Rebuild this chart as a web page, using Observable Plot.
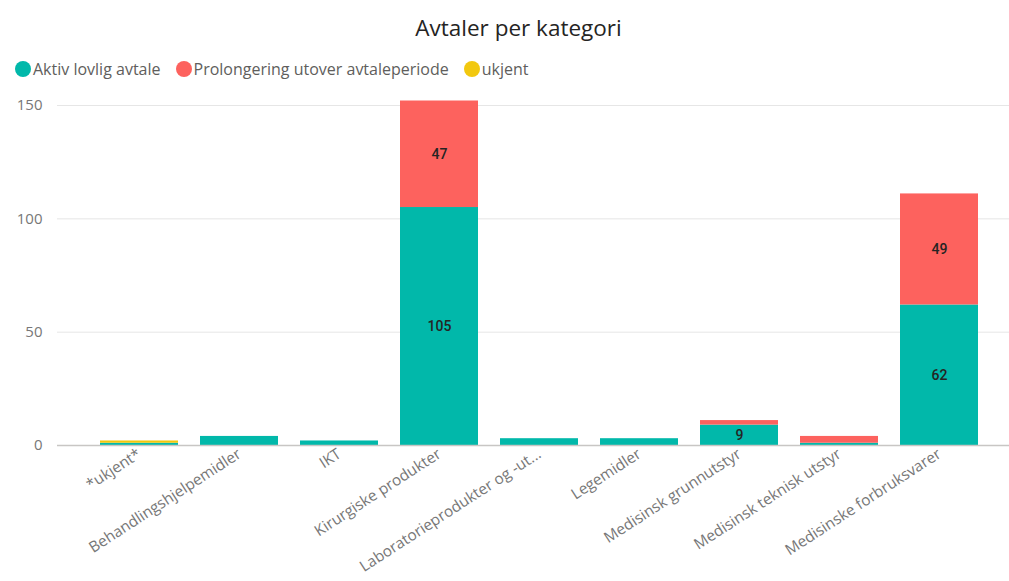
<!DOCTYPE html>
<html>
<head>
<meta charset="utf-8">
<script src="https://cdn.jsdelivr.net/npm/d3@7"></script>
<script src="https://cdn.jsdelivr.net/npm/@observablehq/plot@0.6"></script>
<style>
  html, body { margin: 0; padding: 0; background: #fff; overflow: hidden; }
  body { width: 1009px; height: 581px; font-family: "Open Sans", "Noto Sans", sans-serif; }
  #title { height: 50px; line-height: 56px; text-align: center; font-size: 22.5px; color: #252423; padding-left: 28px; }
  #legend { height: 38px; display: flex; align-items: center; padding-left: 15px; font-size: 16px; color: #605E5C; }
  .item { display: flex; align-items: center; margin-right: 15px; }
  .dot { width: 16px; height: 16px; border-radius: 50%; margin-right: 2px; }
  svg { display: block; }
</style>
</head>
<body>
<div id="title">Avtaler per kategori</div>
<div id="legend"></div>
<div id="chart"></div>
<script>
const categories = ["*ukjent*", "Behandlingshjelpemidler", "IKT", "Kirurgiske produkter", "Laboratorieprodukter og -ut...", "Legemidler", "Medisinsk grunnutstyr", "Medisinsk teknisk utstyr", "Medisinske forbruksvarer"];
const seriesNames = ["Aktiv lovlig avtale", "Prolongering utover avtaleperiode", "ukjent"];
const seriesColors = ["#01B8AA", "#FD625E", "#F2C80F"];
const aktiv   = [1, 4, 2, 105, 3, 3, 9, 1, 62];
const prolong = [0, 0, 0, 47, 0, 0, 2, 3, 49];
const ukjent  = [1, 0, 0, 0, 0, 0, 0, 0, 0];
const yTicks = [0, 50, 100, 150];

const seriesValues = [aktiv, prolong, ukjent];
const data = [];
seriesNames.forEach((s, si) => {
  categories.forEach((c, ci) => {
    data.push({category: c, series: s, value: seriesValues[si][ci]});
  });
});

// legend
const legend = document.getElementById("legend");
seriesNames.forEach((s, i) => {
  const it = document.createElement("div");
  it.className = "item";
  const dot = document.createElement("span");
  dot.className = "dot";
  dot.style.background = seriesColors[i];
  const t = document.createElement("span");
  t.textContent = s;
  it.appendChild(dot); it.appendChild(t);
  legend.appendChild(it);
});

const chart = Plot.plot({
  width: 1009,
  height: 493,
  marginLeft: 57,
  marginRight: 0,
  marginTop: 12.5,
  marginBottom: 136,
  style: {fontFamily: "Open Sans, sans-serif", fontSize: "15px", color: "#777"},
  x: {domain: categories, paddingInner: 0.22, paddingOuter: 0, insetLeft: 40, insetRight: 28, label: null},
  y: {domain: [0, 152], label: null},
  color: {domain: seriesNames, range: seriesColors},
  marks: [
    Plot.ruleY(yTicks.filter(d => d > 0), {stroke: "#e6e6e6", strokeWidth: 1}),
    Plot.axisY({ticks: yTicks, tickSize: 0, tickPadding: 15, fill: "#777", fontSize: 15}),
    Plot.axisX({tickSize: 0, tickRotate: -33, tickPadding: 7, fill: "#777", fontSize: 15.3}),
    Plot.barY(data, Plot.stackY({x: "category", y: "value", fill: "series", z: "series", order: seriesNames})),
    Plot.ruleY([0], {stroke: "#c8c6c4", strokeWidth: 1.5}),
    Plot.text(data, Plot.stackY({x: "category", y: "value", z: "series", order: seriesNames,
      text: d => d.value >= 5 ? String(d.value) : "",
      fill: "#252423", fontFamily: "Roboto, sans-serif", fontWeight: 500, fontSize: 14,
      style: "letter-spacing: 1.5px"}))
  ]
});
document.getElementById("chart").appendChild(chart);
</script>
</body>
</html>
